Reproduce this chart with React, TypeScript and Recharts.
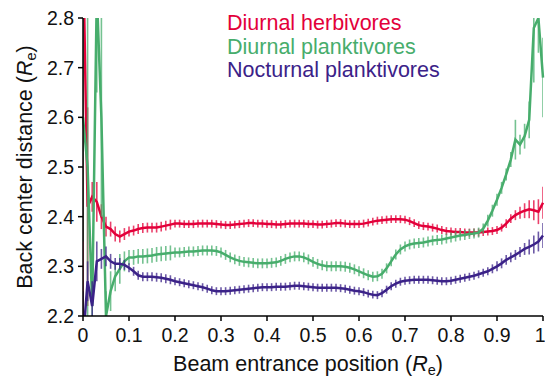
import React from "react"
import { LineChart, Line, XAxis, YAxis, ErrorBar, Legend } from "recharts"

// beam entrance position (Re)
const positions = [
  0, 0.01, 0.02, 0.03, 0.04, 0.05, 0.06, 0.07, 0.08, 0.09,
  0.1, 0.11, 0.12, 0.13, 0.14, 0.15, 0.16, 0.17, 0.18, 0.19,
  0.2, 0.21, 0.22, 0.23, 0.24, 0.25, 0.26, 0.27, 0.28, 0.29,
  0.3, 0.31, 0.32, 0.33, 0.34, 0.35, 0.36, 0.37, 0.38, 0.39,
  0.4, 0.41, 0.42, 0.43, 0.44, 0.45, 0.46, 0.47, 0.48, 0.49,
  0.5, 0.51, 0.52, 0.53, 0.54, 0.55, 0.56, 0.57, 0.58, 0.59,
  0.6, 0.61, 0.62, 0.63, 0.64, 0.65, 0.66, 0.67, 0.68, 0.69,
  0.7, 0.71, 0.72, 0.73, 0.74, 0.75, 0.76, 0.77, 0.78, 0.79,
  0.8, 0.81, 0.82, 0.83, 0.84, 0.85, 0.86, 0.87, 0.88, 0.89,
  0.9, 0.91, 0.92, 0.93, 0.94, 0.95, 0.96, 0.97, 0.98, 0.99,
  1,
]

const herbivores = [
  2.95, 2.42, 2.44, 2.43, 2.4, 2.38, 2.375, 2.365, 2.36, 2.365,
  2.37, 2.372, 2.375, 2.377, 2.378, 2.378, 2.378, 2.38, 2.382, 2.384,
  2.386, 2.386, 2.385, 2.385, 2.385, 2.386, 2.386, 2.386, 2.386, 2.385,
  2.384, 2.383, 2.383, 2.384, 2.385, 2.386, 2.387, 2.387, 2.386, 2.386,
  2.385, 2.385, 2.384, 2.384, 2.385, 2.386, 2.386, 2.386, 2.386, 2.385,
  2.385, 2.384, 2.384, 2.385, 2.386, 2.387, 2.387, 2.386, 2.385, 2.385,
  2.385, 2.386, 2.388, 2.39, 2.392, 2.393, 2.394, 2.395, 2.395, 2.395,
  2.394, 2.391, 2.387, 2.383, 2.381, 2.38, 2.378, 2.376, 2.373, 2.371,
  2.37, 2.369, 2.369, 2.368, 2.368, 2.368, 2.368, 2.369, 2.37, 2.371,
  2.373, 2.378, 2.386, 2.396, 2.403, 2.408, 2.412, 2.415, 2.413, 2.41,
  2.428,
]
const herbivoresErr = [
  0.85, 0.2, 0.03, 0.04, 0.025, 0.02, 0.015, 0.015, 0.012, 0.012,
  0.01, 0.01, 0.01, 0.01, 0.01, 0.01, 0.01, 0.01, 0.01, 0.01,
  0.008, 0.008, 0.008, 0.008, 0.008, 0.008, 0.008, 0.008, 0.008, 0.008,
  0.008, 0.008, 0.008, 0.008, 0.008, 0.008, 0.008, 0.008, 0.008, 0.008,
  0.008, 0.008, 0.008, 0.008, 0.008, 0.008, 0.008, 0.008, 0.008, 0.008,
  0.008, 0.008, 0.008, 0.008, 0.008, 0.008, 0.008, 0.008, 0.008, 0.008,
  0.008, 0.008, 0.008, 0.008, 0.008, 0.008, 0.008, 0.008, 0.008, 0.008,
  0.008, 0.008, 0.008, 0.008, 0.008, 0.008, 0.008, 0.008, 0.008, 0.008,
  0.008, 0.008, 0.008, 0.008, 0.008, 0.008, 0.008, 0.008, 0.008, 0.008,
  0.008, 0.008, 0.009, 0.009, 0.01, 0.012, 0.015, 0.018, 0.02, 0.025,
  0.032,
]

const diurnalPlank = [
  2.6, 2.5, 2.22, 2.85, 2.6, 2.2, 2.25, 2.28, 2.295, 2.31,
  2.318, 2.318, 2.32, 2.32, 2.321, 2.322, 2.324, 2.325, 2.326, 2.327,
  2.328, 2.328, 2.329, 2.33, 2.33, 2.331, 2.332, 2.332, 2.332, 2.331,
  2.328, 2.323, 2.318, 2.314, 2.311, 2.309, 2.308, 2.307, 2.306, 2.306,
  2.306, 2.307, 2.308, 2.311, 2.315, 2.318, 2.32, 2.32, 2.318, 2.314,
  2.309, 2.305, 2.302, 2.3, 2.3, 2.3, 2.3, 2.299, 2.297, 2.294,
  2.29, 2.286, 2.282, 2.279, 2.28, 2.285, 2.296, 2.31, 2.324, 2.334,
  2.34, 2.344, 2.346, 2.347, 2.348, 2.35, 2.352, 2.353, 2.354, 2.356,
  2.358, 2.36, 2.362, 2.363, 2.365, 2.366, 2.368, 2.376, 2.392, 2.412,
  2.434, 2.458, 2.485, 2.515, 2.555, 2.545, 2.562, 2.595, 2.78, 2.8,
  2.68,
]
const diurnalPlankErr = [
  0.25, 0.35, 0.1, 0.2, 0.2, 0.05, 0.04, 0.03, 0.03, 0.02,
  0.015, 0.015, 0.015, 0.015, 0.015, 0.015, 0.015, 0.015, 0.015, 0.015,
  0.01, 0.01, 0.01, 0.01, 0.01, 0.01, 0.01, 0.01, 0.01, 0.01,
  0.01, 0.01, 0.01, 0.01, 0.01, 0.01, 0.01, 0.01, 0.01, 0.01,
  0.01, 0.01, 0.01, 0.01, 0.01, 0.01, 0.01, 0.01, 0.01, 0.01,
  0.01, 0.01, 0.01, 0.01, 0.01, 0.01, 0.01, 0.01, 0.01, 0.01,
  0.01, 0.01, 0.01, 0.01, 0.01, 0.01, 0.01, 0.01, 0.01, 0.01,
  0.01, 0.01, 0.01, 0.01, 0.01, 0.01, 0.01, 0.01, 0.01, 0.01,
  0.01, 0.01, 0.01, 0.01, 0.01, 0.01, 0.01, 0.01, 0.012, 0.012,
  0.012, 0.012, 0.012, 0.015, 0.04, 0.02, 0.025, 0.037, 0.11, 0.07,
  0.08,
]

const nocturnalPlank = [
  2.15, 2.27, 2.22, 2.31, 2.315, 2.32, 2.31, 2.305, 2.305, 2.303,
  2.297, 2.29, 2.282, 2.279, 2.279, 2.279, 2.278, 2.277, 2.275, 2.273,
  2.27, 2.268, 2.266, 2.264, 2.262, 2.26, 2.258, 2.255, 2.252, 2.25,
  2.25, 2.25, 2.251, 2.252, 2.253, 2.254, 2.255, 2.256, 2.257, 2.258,
  2.258, 2.258, 2.259, 2.259, 2.259, 2.26, 2.261, 2.261, 2.26, 2.259,
  2.258, 2.257, 2.257, 2.257, 2.257, 2.257, 2.256, 2.255, 2.253, 2.251,
  2.25, 2.248, 2.245, 2.243, 2.242, 2.246, 2.253, 2.26, 2.265, 2.269,
  2.271, 2.272, 2.273, 2.273, 2.273, 2.273, 2.272, 2.271, 2.27, 2.27,
  2.271, 2.273, 2.275, 2.277, 2.279, 2.281, 2.284, 2.287, 2.29, 2.295,
  2.3, 2.306, 2.313, 2.318, 2.323, 2.329, 2.335, 2.339, 2.344, 2.35,
  2.362,
]
const nocturnalPlankErr = [
  0.1, 0.04, 0.05, 0.04, 0.02, 0.02, 0.015, 0.012, 0.012, 0.01,
  0.009, 0.009, 0.009, 0.009, 0.009, 0.009, 0.009, 0.009, 0.009, 0.009,
  0.008, 0.008, 0.008, 0.008, 0.008, 0.008, 0.008, 0.008, 0.008, 0.008,
  0.008, 0.008, 0.008, 0.008, 0.008, 0.008, 0.008, 0.008, 0.008, 0.008,
  0.008, 0.008, 0.008, 0.008, 0.008, 0.008, 0.008, 0.008, 0.008, 0.008,
  0.008, 0.008, 0.008, 0.008, 0.008, 0.008, 0.008, 0.008, 0.008, 0.008,
  0.008, 0.008, 0.008, 0.008, 0.008, 0.008, 0.008, 0.008, 0.008, 0.008,
  0.008, 0.008, 0.008, 0.008, 0.008, 0.008, 0.008, 0.008, 0.008, 0.008,
  0.008, 0.008, 0.008, 0.008, 0.008, 0.008, 0.008, 0.008, 0.008, 0.009,
  0.01, 0.01, 0.01, 0.01, 0.01, 0.01, 0.012, 0.015, 0.018, 0.02,
  0.025,
]

const xTicks = [0, 0.1, 0.2, 0.3, 0.4, 0.5, 0.6, 0.7, 0.8, 0.9, 1]
const yTicks = [2.2, 2.3, 2.4, 2.5, 2.6, 2.7, 2.8]

const series = [
  { key: "herb", name: "Diurnal herbivores", color: "#e3003a" },
  { key: "dplank", name: "Diurnal planktivores", color: "#47ad6c" },
  { key: "nplank", name: "Nocturnal planktivores", color: "#3b2288" },
]

const data = positions.map((x, i) => ({
  x,
  herb: herbivores[i],
  herbErr: herbivoresErr[i],
  dplank: diurnalPlank[i],
  dplankErr: diurnalPlankErr[i],
  nplank: nocturnalPlank[i],
  nplankErr: nocturnalPlankErr[i],
}))

const W = 545
const H = 377
const margin = { top: 18, right: 2, bottom: 0, left: 0 }
const yAxisWidth = 83
const xAxisHeight = 61

const font = "'Liberation Sans', Arial, Helvetica, sans-serif"
const tickStyle = { fontSize: 19.5, fill: "#111", fontFamily: font }

function XLabel(props: any) {
  const vb = props.viewBox
  const x = vb.x + vb.width / 2 - 5
  const y = vb.y + 55
  return (
    <text x={x} y={y} textAnchor="middle" fontSize={21.5} fontFamily={font} fill="#111">
      <tspan>Beam entrance position (</tspan>
      <tspan fontStyle="italic">R</tspan>
      <tspan fontSize={14.5} dy={4}>e</tspan>
      <tspan dy={-4}>)</tspan>
    </text>
  )
}

function YLabel(props: any) {
  const vb = props.viewBox
  const x = vb.x + 32
  const y = vb.y + vb.height / 2
  return (
    <text
      x={x}
      y={y}
      transform={`rotate(-90, ${x}, ${y})`}
      textAnchor="middle"
      fontSize={21.5}
      fontFamily={font}
      fill="#111"
    >
      <tspan>Back center distance (</tspan>
      <tspan fontStyle="italic">R</tspan>
      <tspan fontSize={14.5} dy={4}>e</tspan>
      <tspan dy={-4}>)</tspan>
    </text>
  )
}

function LegendText() {
  return (
    <div style={{ fontFamily: font, fontSize: 21.5, lineHeight: "23.5px" }}>
      {series.map(s => (
        <div key={s.key} style={{ color: s.color, whiteSpace: "nowrap" }}>
          {s.name}
        </div>
      ))}
    </div>
  )
}

// plot area, used to clip the error bars the same way the lines are clipped
const plotX = margin.left + yAxisWidth
const plotY = margin.top
const plotW = W - margin.left - margin.right - yAxisWidth
const plotH = H - margin.top - margin.bottom - xAxisHeight

export default function App() {
  return (
    <div style={{ position: "absolute", left: 0, top: 0, background: "#fff" }}>
      <LineChart width={W} height={H} data={data} margin={margin}>
        <defs>
          <clipPath id="plotClip">
            <rect x={plotX} y={plotY} width={plotW} height={plotH} />
          </clipPath>
        </defs>
        <XAxis
          dataKey="x"
          type="number"
          domain={[0, 1]}
          ticks={xTicks}
          tickFormatter={(v: number) => String(v)}
          height={xAxisHeight}
          tick={tickStyle}
          tickSize={5}
          tickMargin={7}
          stroke="#000"
          strokeWidth={1.5}
          label={<XLabel />}
        />
        <YAxis
          type="number"
          domain={[2.2, 2.8]}
          allowDataOverflow
          ticks={yTicks}
          tickFormatter={(v: number) => v.toFixed(1)}
          width={yAxisWidth}
          tick={tickStyle}
          tickSize={5}
          tickMargin={4}
          stroke="#000"
          strokeWidth={1.5}
          label={<YLabel />}
        />
        <Legend
          layout="horizontal"
          verticalAlign="middle"
          align="center"
          content={<LegendText />}
          wrapperStyle={{ top: 12, left: 227, width: "auto" }}
        />
        {series.map(s => (
          <Line
            key={s.key}
            dataKey={s.key}
            name={s.name}
            type="linear"
            stroke={s.color}
            strokeWidth={2.5}
            dot={false}
            isAnimationActive={false}
          >
            <ErrorBar
              dataKey={s.key + "Err"}
              direction="y"
              width={0}
              stroke={s.color}
              strokeWidth={1.6}
              strokeOpacity={0.75}
              clipPath="url(#plotClip)"
            />
          </Line>
        ))}
      </LineChart>
    </div>
  )
}
